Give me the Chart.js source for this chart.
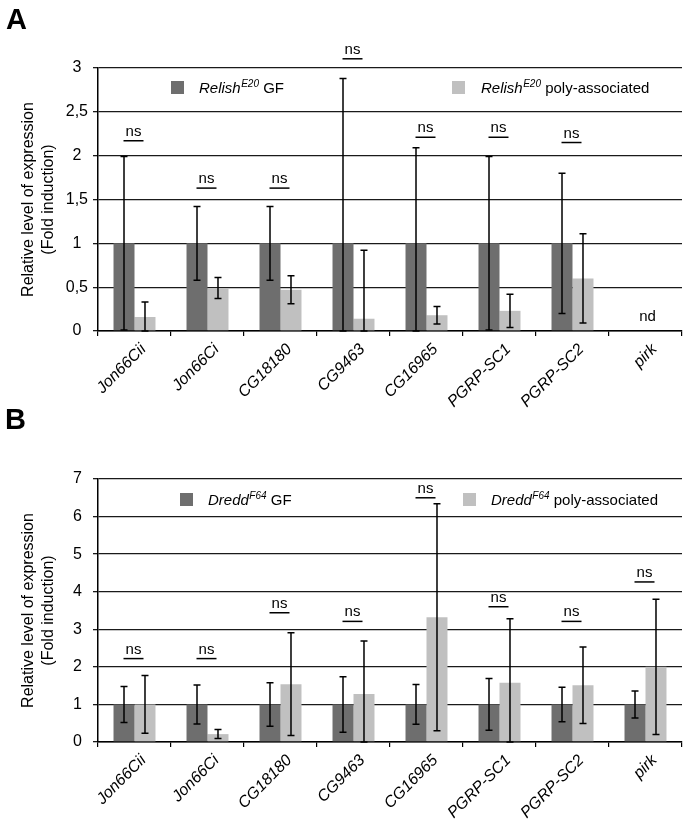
<!DOCTYPE html>
<html>
<head>
<meta charset="utf-8">
<script src="https://cdn.jsdelivr.net/npm/chart.js@4.4.0/dist/chart.umd.min.js"></script>
<style>
html,body{margin:0;padding:0;background:#fff;}
#wrap{position:relative;width:687px;height:820px;overflow:hidden;}
canvas{position:absolute;left:0;}
.letter{position:absolute;font-family:"Liberation Sans",Arial,sans-serif;font-weight:bold;font-size:29px;line-height:1;color:#000;}
</style>
</head>
<body>
<div id="wrap">
  <canvas id="cA" width="687" height="410" style="top:0"></canvas>
  <canvas id="cB" width="687" height="410" style="top:410px"></canvas>
  <div class="letter" style="left:6px;top:5px">A</div>
  <div class="letter" style="left:5px;top:405px">B</div>
</div>
<script>
// ---------- DATA ----------
const categories = ['Jon66Cii','Jon66Ci','CG18180','CG9463','CG16965','PGRP-SC1','PGRP-SC2','pirk'];
const seriesSuffix = ['GF','poly-associated'];

// Panel A (Relish E20)
const geneA = 'Relish';
const alleleA = 'E20';
const relishGF      = [1, 1, 1, 1, 1, 1, 1, null];
const relishGFErr   = [0.99, 0.42, 0.42, 1.88, 1.09, 0.99, 0.80, null];
const relishPoly    = [0.16, 0.49, 0.47, 0.14, 0.18, 0.23, 0.60, null];
const relishPolyErr = [0.17, 0.12, 0.16, 0.78, 0.10, 0.19, 0.51, null];
const sigA      = ['ns','ns','ns','ns','ns','ns','ns','nd'];
const sigLevelA = [2.17, 1.63, 1.63, 3.105, 2.21, 2.21, 2.15, 0.16];
const yTicksA   = ['0','0,5','1','1,5','2','2,5','3'];

// Panel B (Dredd F64)
const geneB = 'Dredd';
const alleleB = 'F64';
const dreddGF      = [1, 1, 1, 1, 1, 1, 1, 1];
const dreddGFErr   = [0.48, 0.52, 0.58, 0.74, 0.53, 0.69, 0.46, 0.36];
const dreddPoly    = [1.0, 0.21, 1.54, 1.28, 3.32, 1.58, 1.51, 2.0];
const dreddPolyErr = [0.77, 0.12, 1.37, 1.41, 3.02, 1.70, 1.02, 1.80];
const sigB      = ['ns','ns','ns','ns','ns','ns','ns','ns'];
const sigLevelB = [2.22, 2.22, 3.44, 3.21, 6.50, 3.60, 3.21, 4.26];
const yTicksB   = ['0','1','2','3','4','5','6','7'];

const yTitle = ['Relative level of expression', '(Fold induction)'];

// ---------- RENDER ----------
const FAM = '"Liberation Sans", Arial, Helvetica, sans-serif';
Chart.defaults.font.family = FAM;
Chart.defaults.color = '#000';
const DARK = '#6e6e6e', LIGHT = '#c0c0c0';

const annot = {
  id: 'annot',
  afterDatasetsDraw(chart, args, o) {
    const ctx = chart.ctx, ys = chart.scales.y, xs = chart.scales.x;
    ctx.save();
    // error bars
    o.errors.forEach((errs, di) => {
      const meta = chart.getDatasetMeta(di);
      const vals = chart.data.datasets[di].data;
      meta.data.forEach((bar, i) => {
        const v = vals[i], e = errs[i];
        if (v == null || e == null) return;
        const yt = ys.getPixelForValue(v + e);
        const yb = ys.getPixelForValue(Math.max(0, v - e));
        ctx.strokeStyle = '#000';
        ctx.lineWidth = 1.5;
        ctx.beginPath();
        ctx.moveTo(bar.x, yt); ctx.lineTo(bar.x, yb);
        ctx.moveTo(bar.x - 3.5, yt); ctx.lineTo(bar.x + 3.5, yt);
        ctx.moveTo(bar.x - 3.5, yb); ctx.lineTo(bar.x + 3.5, yb);
        ctx.stroke();
      });
    });
    // significance
    o.sig.forEach((s, i) => {
      const cx = xs.getPixelForValue(i) - 1;
      const ly = ys.getPixelForValue(o.level[i]);
      ctx.fillStyle = '#000';
      ctx.font = '15px ' + FAM;
      ctx.textAlign = 'center';
      if (s === 'nd') {
        ctx.textBaseline = 'middle';
        ctx.fillText(s, cx + 3, ly);
      } else {
        ctx.textBaseline = 'alphabetic';
        ctx.fillText(s, cx, ly - 5);
        ctx.beginPath();
        ctx.lineWidth = 1.5;
        ctx.moveTo(cx - 10, ly); ctx.lineTo(cx + 10, ly);
        ctx.stroke();
      }
    });
    // legend
    o.legend.forEach((it, k) => {
      const ds = chart.data.datasets[k];
      ctx.fillStyle = ds.backgroundColor;
      ctx.fillRect(it.box, it.y - 6.5, 13, 13);
      ctx.fillStyle = '#000';
      ctx.textAlign = 'left';
      ctx.textBaseline = 'alphabetic';
      const base = it.y + 5.5;
      let tx = it.text;
      ctx.font = 'italic 15px ' + FAM;
      ctx.fillText(o.gene, tx, base);
      tx += ctx.measureText(o.gene).width + 0.5;
      ctx.font = 'italic 10px ' + FAM;
      ctx.fillText(o.allele, tx, base - 6);
      tx += ctx.measureText(o.allele).width;
      ctx.font = '15px ' + FAM;
      ctx.fillText(' ' + seriesSuffix[k], tx, base);
    });
    ctx.restore();
  }
};

function makeChart(id, c) {
  return new Chart(document.getElementById(id), {
    type: 'bar',
    data: {
      labels: categories,
      datasets: [
        { label: c.gene + c.allele + ' ' + seriesSuffix[0], data: c.gf, backgroundColor: DARK, borderWidth: 0, categoryPercentage: 0.575, barPercentage: 1 },
        { label: c.gene + c.allele + ' ' + seriesSuffix[1], data: c.poly, backgroundColor: LIGHT, borderWidth: 0, categoryPercentage: 0.575, barPercentage: 1 }
      ]
    },
    options: {
      responsive: false,
      animation: false,
      devicePixelRatio: 1,
      layout: { padding: { top: c.padTop, right: 5, left: 0, bottom: 0 } },
      plugins: {
        legend: { display: false },
        tooltip: { enabled: false },
        annot: { errors: [c.gfErr, c.polyErr], sig: c.sig, level: c.level, legend: c.legend, gene: c.gene, allele: c.allele }
      },
      scales: {
        x: {
          offset: true,
          grid: { display: true, drawOnChartArea: false, drawTicks: true, tickLength: 5, color: '#000', lineWidth: 1.2, offset: true },
          border: { display: true, color: '#000', width: 1.5 },
          ticks: { minRotation: 45, maxRotation: 45, autoSkip: false, color: '#000', font: { size: 16, style: 'italic', family: FAM }, labelOffset: 9, padding: 4 },
          afterFit: s => { s.height = c.xH; }
        },
        y: {
          min: 0, max: c.max,
          ticks: { stepSize: c.step, callback: (v, i) => c.ticks[i], color: '#000', font: { size: 16, family: FAM }, crossAlign: 'center', padding: c.tickPad },
          grid: { color: '#1a1a1a', lineWidth: 1.3, tickLength: 5, drawTicks: true },
          border: { display: true, color: '#000', width: 1.5 },
          title: { display: true, text: yTitle, color: '#000', font: { size: 16, family: FAM, lineHeight: 1.25 }, padding: { top: 19, bottom: 0 } },
          afterFit: s => { s.width = 98; }
        }
      }
    },
    plugins: [annot]
  });
}

makeChart('cA', {
  gene: geneA, allele: alleleA, gf: relishGF, gfErr: relishGFErr, poly: relishPoly, polyErr: relishPolyErr,
  sig: sigA, level: sigLevelA, ticks: yTicksA, max: 3, step: 0.5, tickPad: 5,
  padTop: 68, xH: 79,
  legend: [{ box: 171, text: 199, y: 87.5 }, { box: 452, text: 481, y: 87.5 }]
});
makeChart('cB', {
  gene: geneB, allele: alleleB, gf: dreddGF, gfErr: dreddGFErr, poly: dreddPoly, polyErr: dreddPolyErr,
  sig: sigB, level: sigLevelB, ticks: yTicksB, max: 7, step: 1, tickPad: 11,
  padTop: 69, xH: 78,
  legend: [{ box: 180, text: 208, y: 89.5 }, { box: 463, text: 491, y: 89.5 }]
});
</script>
</body>
</html>
